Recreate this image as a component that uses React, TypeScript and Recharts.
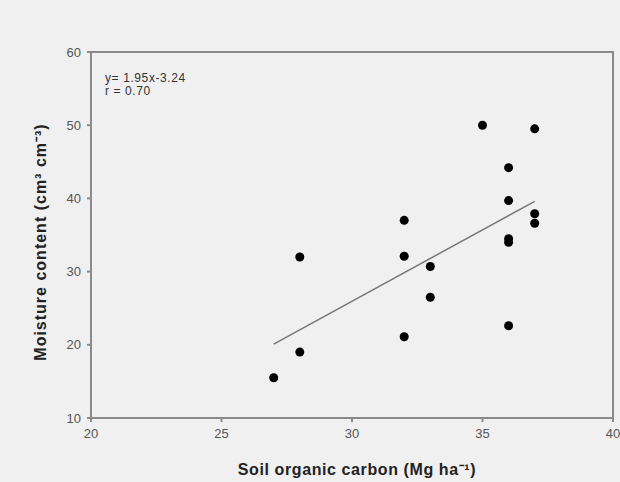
import { ScatterChart, Scatter, XAxis, YAxis, ReferenceArea } from "recharts";

const carbon = [27, 28, 28, 32, 32, 32, 33, 33, 35, 36, 36, 36, 36, 36, 37, 37, 37];
const moisture = [15.5, 19, 32, 21.1, 32.1, 37, 26.5, 30.7, 50, 44.2, 39.7, 34.5, 34, 22.6, 49.5, 37.9, 36.6];
const fitX = [27, 37];
const fitY = [20.1, 39.6];
const xTicks = [20, 25, 30, 35, 40];
const yTicks = [10, 20, 30, 40, 50, 60];

const points = carbon.map((x, i) => ({ x, y: moisture[i] }));
const fitLine = fitX.map((x, i) => ({ x, y: fitY[i] }));

const AXIS = "#8a8a8a";
const FONT = "'Liberation Sans', Arial, sans-serif";

export default function App() {
  return (
    <div
      style={{
        position: "fixed",
        left: 0,
        top: 0,
        width: 620,
        height: 482,
        background: "#f0f0f0",
        fontFamily: FONT,
      }}
    >
      <ScatterChart width={620} height={482} margin={{ top: 52, right: 7, bottom: 0, left: 0 }}>
        <ReferenceArea x1={20} x2={40} y1={10} y2={60} fill="none" stroke={AXIS} strokeWidth={2} fillOpacity={0} />
        <XAxis
          type="number"
          dataKey="x"
          domain={[20, 40]}
          ticks={xTicks}
          height={64}
          stroke={AXIS}
          strokeWidth={2}
          tickSize={4}
          tickMargin={7}
          tick={{ fill: "#555", fontSize: 13, fontFamily: FONT }}
        />
        <YAxis
          type="number"
          dataKey="y"
          domain={[10, 60]}
          ticks={yTicks}
          width={91}
          stroke={AXIS}
          strokeWidth={2}
          tickSize={4}
          tickMargin={6}
          tick={{ fill: "#555", fontSize: 13, fontFamily: FONT }}
        />
        <Scatter data={fitLine} line={{ stroke: "#777", strokeWidth: 1.5 }} shape={() => null} isAnimationActive={false} />
        <Scatter data={points} fill="#000" isAnimationActive={false} shape={(p: any) => <circle cx={p.cx} cy={p.cy} r={4.5} fill="#000" />} />
        <text x={105} y={82} fontSize={12} letterSpacing={0.6} fill="#333" fontFamily={FONT}>y= 1.95x-3.24</text>
        <text x={105} y={95} fontSize={12} letterSpacing={0.6} fill="#333" fontFamily={FONT}>r = 0.70</text>
        <text
          x={357}
          y={475}
          textAnchor="middle"
          fontSize={16}
          fontWeight="bold"
          letterSpacing={0.6}
          fill="#222"
          fontFamily={FONT}
        >
          Soil organic carbon (Mg ha⁻¹)
        </text>
        <text
          x={46}
          y={242}
          transform="rotate(-90 46 242)"
          textAnchor="middle"
          fontSize={16}
          fontWeight="bold"
          letterSpacing={1}
          fill="#222"
          fontFamily={FONT}
        >
          Moisture content (cm³ cm⁻³)
        </text>
      </ScatterChart>
    </div>
  );
}
